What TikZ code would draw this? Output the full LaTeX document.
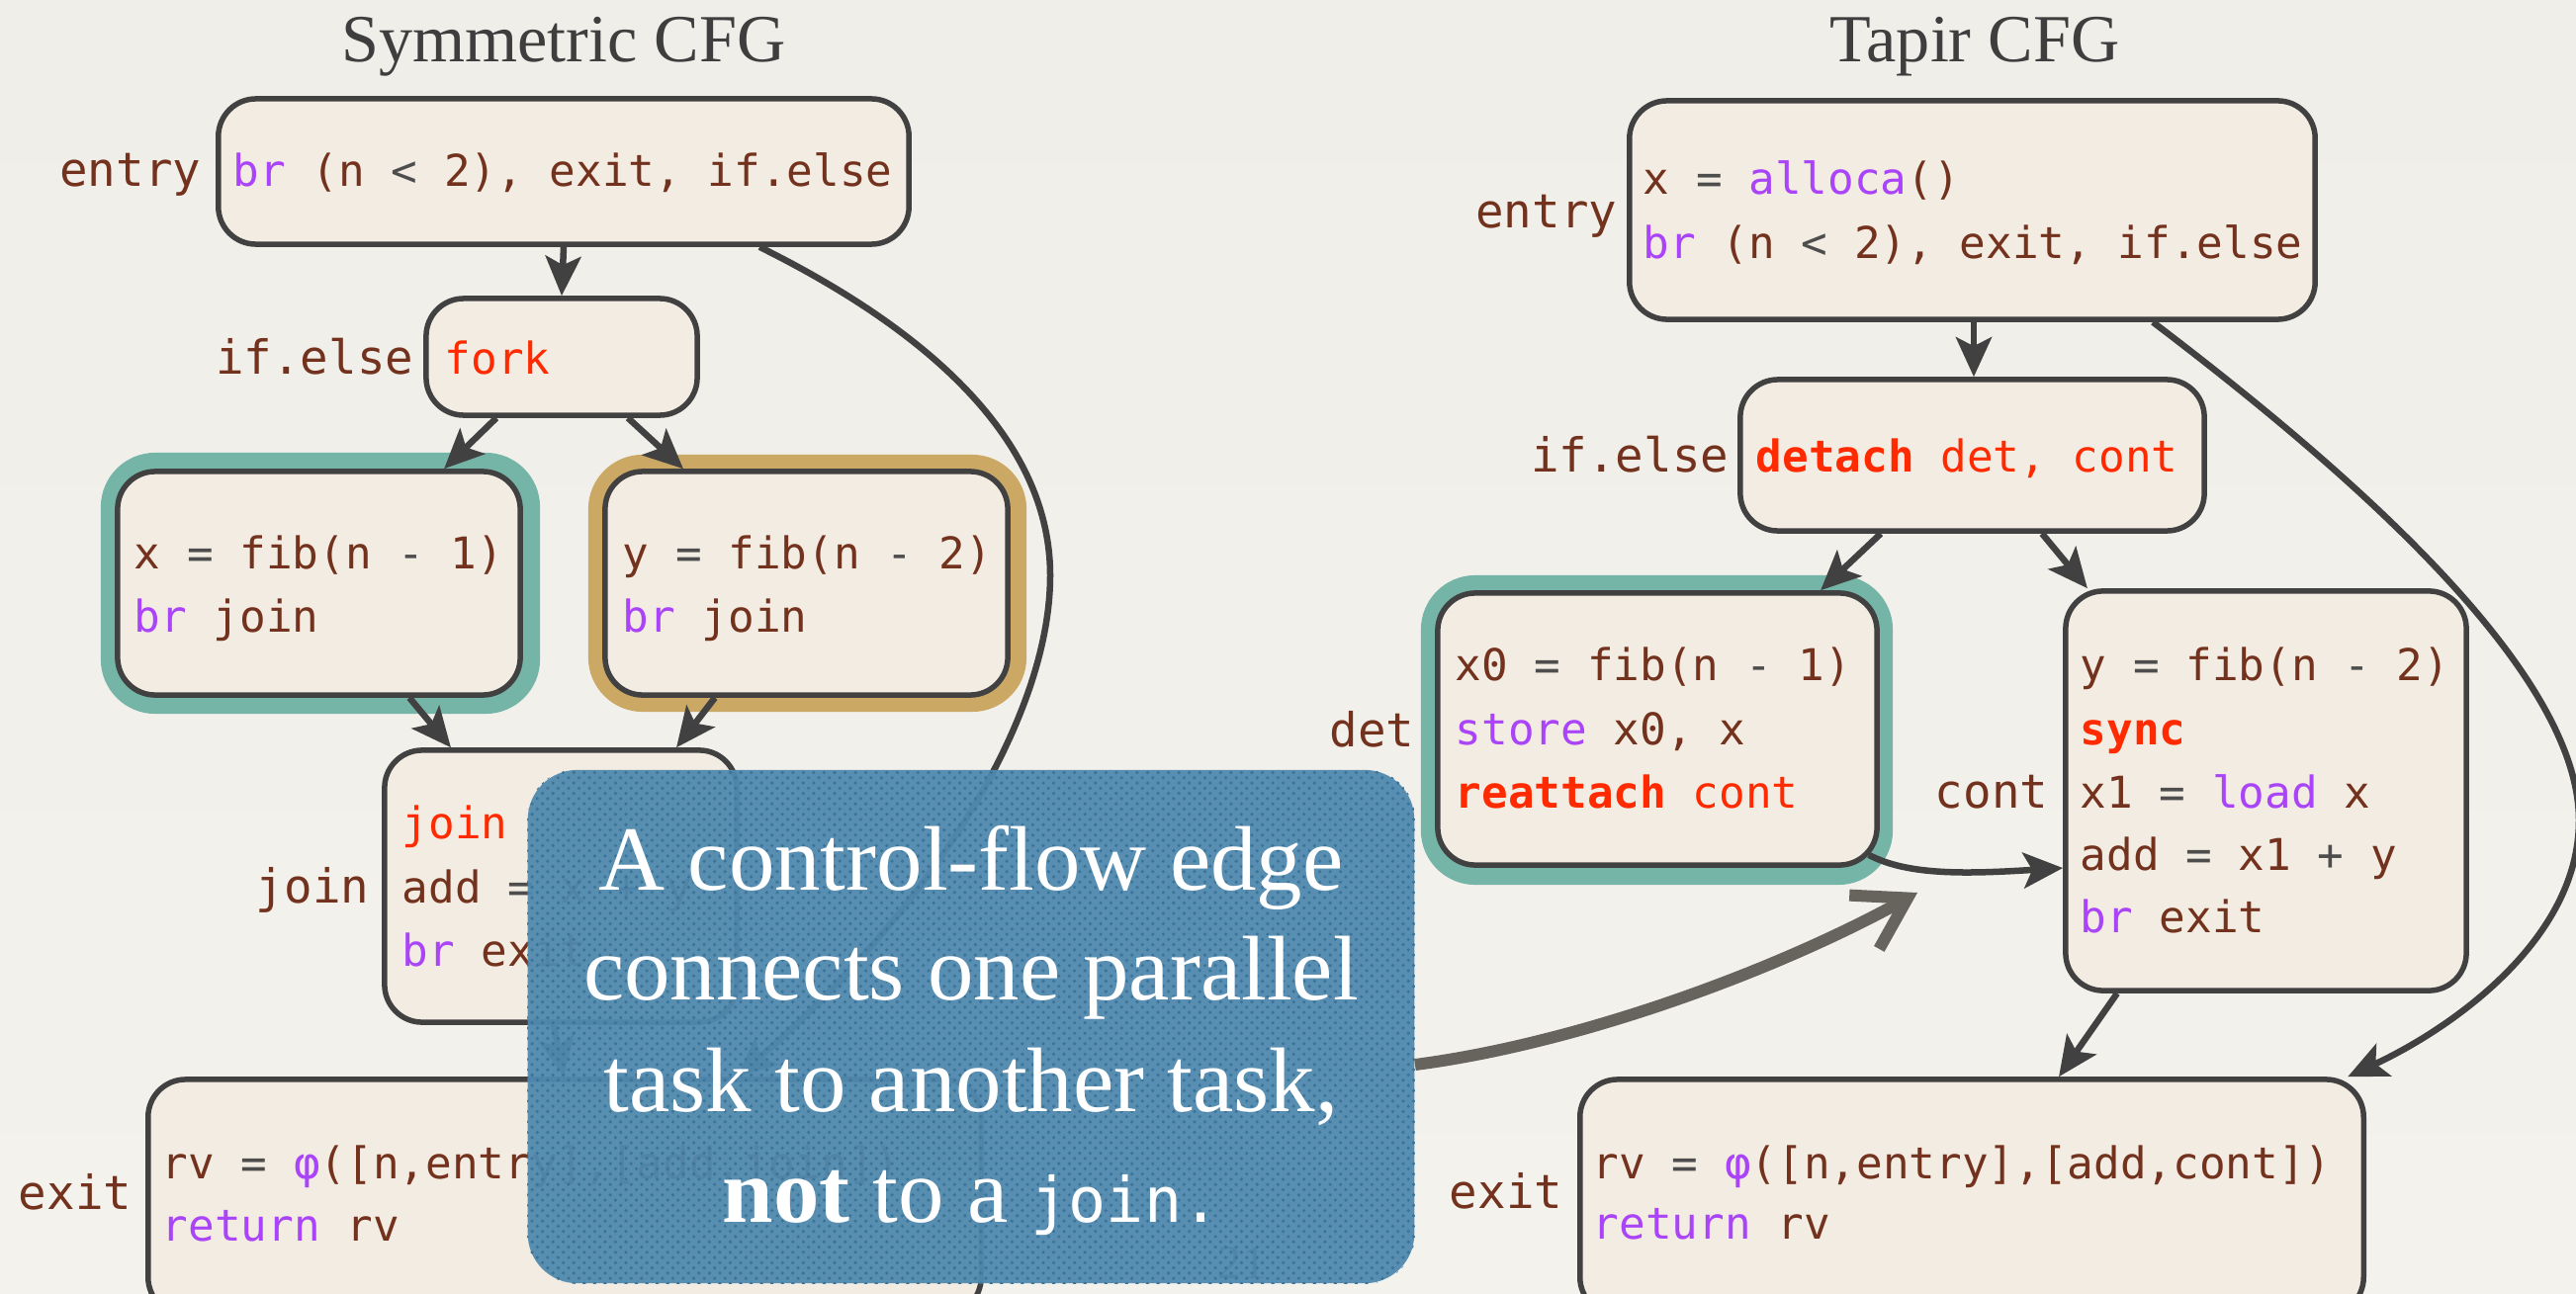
\documentclass[tikz,border=0pt]{standalone}
\usepackage{fontspec}
\setmainfont{Liberation Serif}
\newfontfamily\codefont{DejaVu Sans Mono}
\usetikzlibrary{arrows.meta,calc,patterns}
\definecolor{bgtop}{HTML}{F0EEE9}
\definecolor{bgmid}{HTML}{E6E4DF}
\definecolor{bgbot}{HTML}{F4F2ED}
\definecolor{cbox}{HTML}{F3ECE2}
\definecolor{cline}{HTML}{414141}
\definecolor{cbrown}{HTML}{73321E}
\definecolor{cpurple}{HTML}{AA44F8}
\definecolor{cred}{HTML}{FF2A00}
\definecolor{cop}{HTML}{4D4D4D}
\definecolor{cteal}{HTML}{75B5A7}
\definecolor{cgold}{HTML}{CCA865}
\definecolor{cblue}{HTML}{5089AE}
\definecolor{cdot}{HTML}{3A7499}
\definecolor{cgarrow}{HTML}{67635D}
\definecolor{ctitle}{HTML}{3E3E3E}
\newcommand\kw[1]{\textcolor{cpurple}{#1}}
\newcommand\opx[1]{\textcolor{cop}{#1}}
\newcommand\rdx[1]{\textcolor{cred}{#1}}
\tikzset{
  box/.style={draw=cline, line width=0.055cm, fill=cbox, rounded corners=0.38cm, inner sep=0pt},
  haloT/.style={fill=cteal, rounded corners=0.55cm, inner sep=0pt},
  haloG/.style={fill=cgold, rounded corners=0.55cm, inner sep=0pt},
  code/.style={anchor=base west, inner sep=0pt, text=cbrown, font=\codefont\fontsize{12.6pt}{18pt}\selectfont},
  lbl/.style={anchor=base east, inner sep=0pt, text=cbrown, font=\codefont\fontsize{13.5pt}{18pt}\selectfont},
  cfgarrow/.style={draw=cline, line width=0.065cm, -{Stealth[length=0.4cm,width=0.36cm,inset=0.09cm]}},
  ttl/.style={anchor=base, inner sep=0pt, text=ctitle, font=\fontsize{19.4pt}{23pt}\selectfont},
  bluetxt/.style={anchor=base, inner sep=0pt, text=white, font=\fontsize{26.4pt}{32pt}\selectfont},
  bluebox/.style={fill=cblue, fill opacity=0.95, rounded corners=0.5cm, inner sep=0pt},
  grayarrow/.style={draw=cgarrow, line width=0.12cm, line cap=butt, -{Straight Barb[length=0.5cm,width=0.62cm,line cap=butt]}}
}
\begin{document}
\begin{tikzpicture}[x=0.01cm, y=-0.01cm]
\useasboundingbox (0,0) rectangle (2605,1309);
\shade[top color=bgtop, middle color=bgmid, bottom color=bgbot] (0,0) rectangle (2605,1309);

% titles
\node[ttl] (tL) at (570,62) {Symmetric CFG};
\node[ttl] (tR) at (1997,62) {Tapir CFG};

% ---------------- Symmetric CFG ----------------
\node[haloT, minimum width=4.44cm, minimum height=2.64cm] (xLh) at (324,590) {};
\node[haloG, minimum width=4.43cm, minimum height=2.60cm] (yLh) at (816.5,590) {};

\node[box, minimum width=6.98cm, minimum height=1.47cm] (eL) at (570,173.5) {};
\node[box, minimum width=2.74cm, minimum height=1.18cm] (ifL) at (568,361) {};
\node[box, minimum width=4.07cm, minimum height=2.26cm] (xL) at (322.5,590) {};
\node[box, minimum width=4.07cm, minimum height=2.26cm] (yL) at (815.5,590) {};
\node[box, minimum width=3.56cm, minimum height=2.75cm] (jL) at (567,896.5) {};
\node[box, minimum width=8.42cm, minimum height=2.38cm] (exL) at (571,1211) {};

\node[lbl] (eLl) at (204,188) {entry};
\node[lbl] (ifLl) at (419,378) {if.else};
\node[lbl] (jLl) at (374,913) {join};
\node[lbl] (exLl) at (134,1223) {exit};

\node[code] (eLa) at (235,188) {\kw{br} (n \opx{<} 2), exit, if.else};
\node[code] (ifLa) at (449,378) {\rdx{fork}};
\node[code] (xLa) at (135,575) {x \opx{=} fib(n \opx{-} 1)};
\node[code] (xLb) at (135,639) {\kw{br} join};
\node[code] (yLa) at (629,575) {y \opx{=} fib(n \opx{-} 2)};
\node[code] (yLb) at (629,639) {\kw{br} join};
\node[code] (jLa) at (406,848) {\rdx{join}};
\node[code] (jLb) at (406,913) {add \opx{=} x \opx{+} y};
\node[code] (jLc) at (406,977) {\kw{br} exit};
\node[code] (exLa) at (163,1192) {rv \opx{=} \kw{φ}([n,entry],[add,join])};
\node[code] (exLb) at (163,1255) {\kw{return} rv};

\draw[cfgarrow] (eL.south) -- (ifL.north);
\draw[cfgarrow] ([xshift=-0.66cm]ifL.south) -- ([xshift=1.265cm]xL.north);
\draw[cfgarrow] ([xshift=0.67cm]ifL.south) -- ([xshift=-1.245cm]yL.north);
\draw[cfgarrow] ([xshift=0.915cm]xL.south) -- ([xshift=-1.11cm]jL.north);
\draw[cfgarrow] ([xshift=-0.925cm]yL.south) -- ([xshift=1.17cm]jL.north);
\draw[cfgarrow] ([xshift=-0.07cm]jL.south) -- ([xshift=-0.01cm]exL.north);
\draw[cfgarrow] ([xshift=1.98cm]eL.south) .. controls (930,330) and (1062,440) .. (1062,582)
   .. controls (1062,740) and (920,940) .. ([xshift=1.74cm]exL.north);

% ---------------- Tapir CFG ----------------
\node[haloT, minimum width=4.77cm, minimum height=3.13cm] (dRh) at (1675.5,738.5) {};

\node[box, minimum width=6.93cm, minimum height=2.21cm] (eR) at (1994.5,212.5) {};
\node[box, minimum width=4.69cm, minimum height=1.53cm] (ifR) at (1994.5,460.5) {};
\node[box, minimum width=4.44cm, minimum height=2.75cm] (dR) at (1676,737.5) {};
\node[box, minimum width=4.05cm, minimum height=4.04cm] (cR) at (2291.5,800) {};
\node[box, minimum width=7.92cm, minimum height=2.38cm] (exR) at (1994,1211) {};

\node[lbl] (eRl) at (1636,230) {entry};
\node[lbl] (ifRl) at (1749,477) {if.else};
\node[lbl] (dRl) at (1431,755) {det};
\node[lbl] (cRl) at (2072,817) {cont};
\node[lbl] (exRl) at (1581,1222) {exit};

\node[code] (eRa) at (1661,196) {x \opx{=} \kw{alloca}()};
\node[code] (eRb) at (1661,261) {\kw{br} (n \opx{<} 2), exit, if.else};
\node[code] (ifRa) at (1775,477) {\rdx{\textbf{detach} det, cont}};
\node[code] (dRa) at (1471,688) {x0 \opx{=} fib(n \opx{-} 1)};
\node[code] (dRb) at (1471,753) {\kw{store} x0, x};
\node[code] (dRc) at (1471,817) {\rdx{\textbf{reattach} cont}};
\node[code] (cRa) at (2103,688) {y \opx{=} fib(n \opx{-} 2)};
\node[code] (cRb) at (2103,753) {\rdx{\textbf{sync}}};
\node[code] (cRc) at (2103,817) {x1 \opx{=} \kw{load} x};
\node[code] (cRd) at (2103,880) {add \opx{=} x1 \opx{+} y};
\node[code] (cRe) at (2103,943) {\kw{br} exit};
\node[code] (exRa) at (1610,1192) {rv \opx{=} \kw{φ}([n,entry],[add,cont])};
\node[code] (exRb) at (1610,1253) {\kw{return} rv};

\draw[cfgarrow] ([xshift=0.015cm]eR.south) -- ([xshift=0.015cm]ifR.north);
\draw[cfgarrow] ([xshift=-0.925cm]ifR.south) -- ([xshift=1.65cm]dR.north);
\draw[cfgarrow] ([xshift=0.705cm]ifR.south) -- ([xshift=-1.805cm]cR.north);
\draw[cfgarrow] ([xshift=-0.11cm,yshift=0.13cm]dR.south east) .. controls (1930,886) and (1990,884) .. ([yshift=-0.78cm]cR.west);
\draw[cfgarrow] ([xshift=-1.505cm]cR.south) -- ([xshift=0.88cm]exR.north);
\draw[cfgarrow] ([xshift=1.825cm]eR.south) .. controls (2380,480) and (2608,680) .. (2608,830)
   .. controls (2608,950) and (2480,1040) .. ([xshift=3.8cm]exR.north);

% slide number (under the callout)
\node[anchor=base, inner sep=0pt, text=ctitle, font=\fontsize{13.7pt}{16pt}\selectfont] (pg) at (1256,1293) {21};

% ---------------- callout ----------------
\node[bluebox, minimum width=8.96cm, minimum height=5.19cm] (bb) at (982,1038.5) {};
\path[pattern=crosshatch dots, pattern color=cdot, rounded corners=0.5cm] (bb.south west) rectangle (bb.north east);
\node[bluetxt] (b1) at (982,900) {A control-flow edge};
\node[bluetxt] (b2) at (982,1011) {connects one parallel};
\node[bluetxt] (b3) at (982,1124) {task to another task,};
\node[bluetxt] (b4) at (982,1236) {\textbf{not} to a {\codefont\fontsize{18pt}{20pt}\selectfont join.}};
\coordinate (gtip) at (1939,903);
\draw[grayarrow] ([yshift=-0.385cm]bb.east) .. controls (1600,1055) and (1800,980) .. (gtip);
\end{tikzpicture}
\end{document}
